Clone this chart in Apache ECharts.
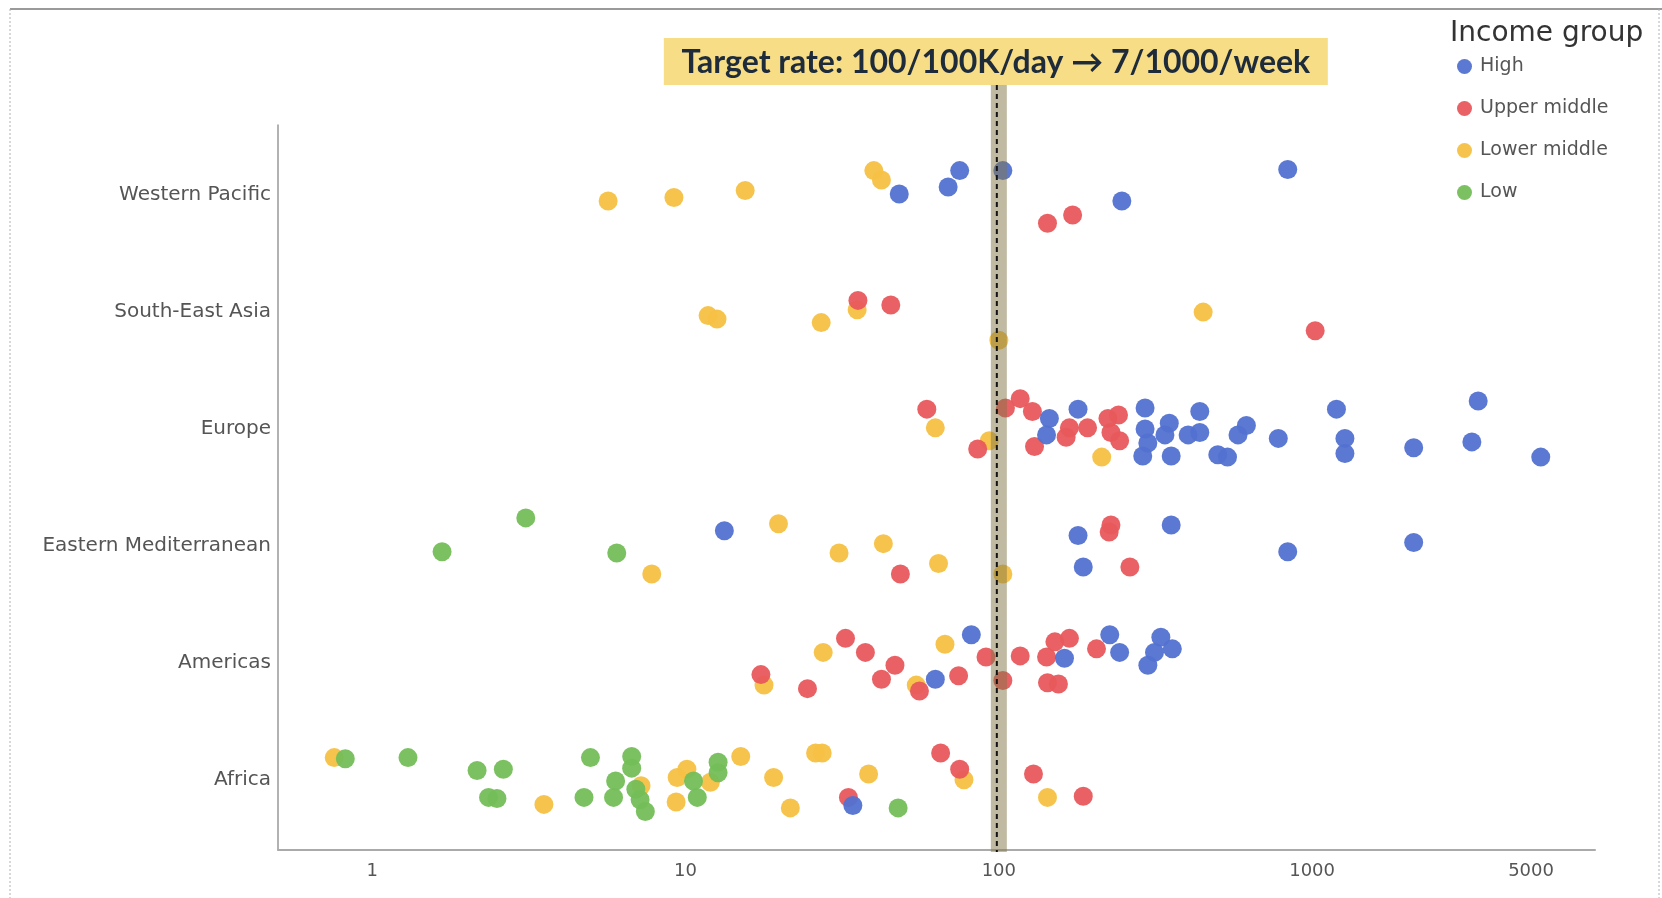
<!DOCTYPE html>
<html>
<head>
<meta charset="utf-8">
<script src="https://cdn.jsdelivr.net/npm/echarts@6/dist/echarts.min.js"></script>
<style>
html,body{margin:0;padding:0;background:#fff;}
#chart{width:1662px;height:898px;}
</style>
</head>
<body>
<div id="chart"></div>
<script>
// Regions (y categories, bottom to top)
const regions = ['Africa','Americas','Eastern Mediterranean','Europe','South-East Asia','Western Pacific'];
const xTickLabels = [1, 10, 100, 1000, 5000];
const targetRate = 100;
const groupNames = ['High','Upper middle','Lower middle','Low'];
const groupColors = ['#5271d0','#e8585c','#f5c143','#74be58'];

// [region, rate, vertical jitter within the row]
const highPts = [
  ['Western Pacific',48.1,0.01],['Western Pacific',68.9,0.07],['Western Pacific',75,0.21],['Western Pacific',103,0.21],['Western Pacific',247,-0.05],['Western Pacific',836,0.22],
  ['Europe',145,0.09],['Europe',142,-0.05],['Europe',179,0.17],['Europe',293,0.18],['Europe',293,0],['Europe',288,-0.23],['Europe',299,-0.12],['Europe',350,0.05],['Europe',339,-0.05],['Europe',355,-0.23],['Europe',438,0.15],['Europe',402,-0.05],['Europe',438,-0.03],['Europe',500,-0.22],['Europe',537,-0.24],['Europe',580,-0.05],['Europe',617,0.03],['Europe',780,-0.08],['Europe',1196,0.17],['Europe',1273,-0.08],['Europe',1273,-0.21],['Europe',2110,-0.16],['Europe',3236,-0.11],['Europe',3390,0.24],['Europe',5370,-0.24],
  ['Eastern Mediterranean',13.3,0.13],['Eastern Mediterranean',179,0.09],['Eastern Mediterranean',186,-0.18],['Eastern Mediterranean',355,0.18],['Eastern Mediterranean',836,-0.05],['Eastern Mediterranean',2110,0.03],
  ['Americas',62.7,-0.14],['Americas',81.7,0.24],['Americas',162,0.04],['Americas',226,0.24],['Americas',243,0.09],['Americas',329,0.22],['Americas',358,0.12],['Americas',314,0.09],['Americas',299,-0.02],
  ['Africa',34.2,-0.22]
];
const upperMiddlePts = [
  ['Western Pacific',143,-0.24],['Western Pacific',172,-0.17],
  ['South-East Asia',35.5,0.10],['South-East Asia',45.2,0.06],['South-East Asia',1023,-0.16],
  ['Europe',58.9,0.17],['Europe',85.6,-0.17],['Europe',105,0.18],['Europe',117,0.26],['Europe',128,0.15],['Europe',130,-0.15],['Europe',164,-0.07],['Europe',168,0.01],['Europe',192,0.01],['Europe',223,0.09],['Europe',241,0.12],['Europe',228,-0.03],['Europe',243,-0.10],
  ['Eastern Mediterranean',48.5,-0.24],['Eastern Mediterranean',228,0.18],['Eastern Mediterranean',225,0.12],['Eastern Mediterranean',262,-0.18],
  ['Americas',17.4,-0.10],['Americas',24.5,-0.22],['Americas',32.4,0.21],['Americas',37.5,0.09],['Americas',42.2,-0.14],['Americas',46.6,-0.02],['Americas',55.8,-0.24],['Americas',74.4,-0.11],['Americas',91,0.05],['Americas',103,-0.15],['Americas',117,0.06],['Americas',142,0.05],['Americas',151,0.18],['Americas',168,0.21],['Americas',143,-0.17],['Americas',155,-0.18],['Americas',205,0.12],
  ['Africa',33.1,-0.15],['Africa',65.2,0.23],['Africa',75,0.09],['Africa',129,0.05],['Africa',186,-0.14]
];
const lowerMiddlePts = [
  ['Western Pacific',5.66,-0.05],['Western Pacific',9.18,-0.02],['Western Pacific',15.5,0.04],['Western Pacific',39.9,0.21],['Western Pacific',42.2,0.13],
  ['South-East Asia',11.8,-0.03],['South-East Asia',12.6,-0.06],['South-East Asia',27.1,-0.09],['South-East Asia',35.3,0.02],['South-East Asia',100,-0.24],['South-East Asia',449,0],
  ['Europe',62.7,0.01],['Europe',93.2,-0.10],['Europe',213,-0.24],
  ['Eastern Mediterranean',7.8,-0.24],['Eastern Mediterranean',19.8,0.19],['Eastern Mediterranean',30.9,-0.06],['Eastern Mediterranean',42.8,0.02],['Eastern Mediterranean',64.2,-0.15],['Eastern Mediterranean',103,-0.24],
  ['Americas',17.8,-0.19],['Americas',27.5,0.09],['Americas',54.5,-0.19],['Americas',67.3,0.16],
  ['Africa',0.756,0.19],['Africa',3.53,-0.21],['Africa',7.21,-0.05],['Africa',9.4,0.02],['Africa',9.33,-0.19],['Africa',10.1,0.09],['Africa',12,-0.02],['Africa',15,0.2],['Africa',19.1,0.02],['Africa',21.6,-0.24],['Africa',26,0.23],['Africa',27.3,0.23],['Africa',38.4,0.05],['Africa',77.4,0],['Africa',143,-0.15]
];
const lowPts = [
  ['Eastern Mediterranean',1.67,-0.05],['Eastern Mediterranean',3.09,0.24],['Eastern Mediterranean',6.03,-0.06],
  ['Africa',0.82,0.18],['Africa',1.3,0.19],['Africa',2.16,0.08],['Africa',2.62,0.09],['Africa',2.35,-0.15],['Africa',2.5,-0.16],['Africa',4.74,-0.15],['Africa',4.97,0.19],['Africa',5.98,-0.01],['Africa',5.89,-0.15],['Africa',6.73,0.2],['Africa',6.73,0.1],['Africa',6.94,-0.08],['Africa',7.16,-0.17],['Africa',7.44,-0.27],['Africa',10.6,-0.01],['Africa',10.9,-0.15],['Africa',12.7,0.15],['Africa',12.7,0.06],['Africa',47.7,-0.24]
];

const toData = pts => pts.map(([r, v, j]) => [v, regions.indexOf(r) + j]);

const FONT = 'DejaVu Sans';
const chart = echarts.init(document.getElementById('chart'), null, {renderer: 'canvas'});

function mk(name, idx, pts) {
  return {
    name: name, type: 'scatter', data: toData(pts), symbol: 'circle', symbolSize: 19,
    itemStyle: {color: groupColors[idx], opacity: 0.95}, z: 2
  };
}

chart.setOption({
  animation: false,
  backgroundColor: '#fff',
  title: {
    text: 'Income group', left: 1445, top: 15,
    textStyle: {fontFamily: FONT, fontSize: 28, fontWeight: 'normal', color: '#333'}
  },
  legend: {
    orient: 'vertical', left: 1452, top: 52, itemGap: 23,
    itemWidth: 15, itemHeight: 15, icon: 'circle',
    data: groupNames,
    textStyle: {fontFamily: FONT, fontSize: 19, color: '#555', padding: [0, 0, 0, 3]}
  },
  grid: {left: 278, right: 67, top: 125, bottom: 48, containLabel: false},
  xAxis: {
    type: 'log', logBase: 10, min: 0.5, max: 8000,
    axisLine: {show: true, onZero: false, lineStyle: {color: '#aaa', width: 2}},
    axisTick: {show: false},
    splitLine: {show: false},
    axisLabel: {
      customValues: xTickLabels, margin: 12,
      formatter: v => String(v),
      fontFamily: FONT, fontSize: 18, color: '#555'
    }
  },
  yAxis: {
    type: 'value', min: -0.6, max: 5.6,
    axisLine: {show: true, onZero: false, lineStyle: {color: '#999', width: 1.5}},
    axisTick: {show: false},
    splitLine: {show: false},
    axisLabel: {
      customValues: [0, 1, 2, 3, 4, 5], margin: 7,
      formatter: v => regions[Math.round(v)],
      fontFamily: FONT, fontSize: 20, color: '#555'
    }
  },
  series: [
    mk('Lower middle', 2, lowerMiddlePts),
    mk('Upper middle', 1, upperMiddlePts),
    mk('Low', 3, lowPts),
    mk('High', 0, highPts)
  ]
});

// Target-rate band and annotation, positioned through the axis scale
const pTop = chart.convertToPixel({gridIndex: 0}, [targetRate, 5.6]);
const pBot = chart.convertToPixel({gridIndex: 0}, [targetRate, -0.6]);
const cx = pTop[0];
const boxTop = 38, boxH = 47, boxW = 664;
chart.setOption({
  graphic: [
    {type: 'line', z: 0, shape: {x1: 10, y1: 9, x2: 1662, y2: 9}, style: {stroke: '#9a9a9a', lineWidth: 2}},
    {type: 'line', z: 0, shape: {x1: 10, y1: 9, x2: 10, y2: 898}, style: {stroke: '#b0b0b0', lineWidth: 1, lineDash: [2, 2]}},
    {type: 'line', z: 0, shape: {x1: 1659, y1: 9, x2: 1659, y2: 898}, style: {stroke: '#b0b0b0', lineWidth: 1, lineDash: [2, 2]}},
    {type: 'rect', z: 10, shape: {x: cx - 8, y: boxTop + boxH, width: 16, height: pBot[1] + 2 - (boxTop + boxH)},
      style: {fill: 'rgba(130,118,70,0.5)'}},
    {type: 'line', z: 11, shape: {x1: cx - 2, y1: boxTop + boxH, x2: cx - 2, y2: pBot[1] + 2},
      style: {stroke: '#111', lineWidth: 2, lineDash: [5, 4]}},
    {type: 'rect', z: 12, shape: {x: cx - 3 - boxW / 2, y: boxTop, width: boxW, height: boxH},
      style: {fill: '#f8dd87'}},
    {type: 'text', z: 13, x: cx - 3, y: boxTop + boxH / 2 + 1,
      style: {text: 'Target rate: 100/100K/day \u2192 7/1000/week', fill: '#1d2b3a',
        font: 'bold 32px Lato, "Open Sans", sans-serif', align: 'center', verticalAlign: 'middle'}}
  ]
});
</script>
</body>
</html>
